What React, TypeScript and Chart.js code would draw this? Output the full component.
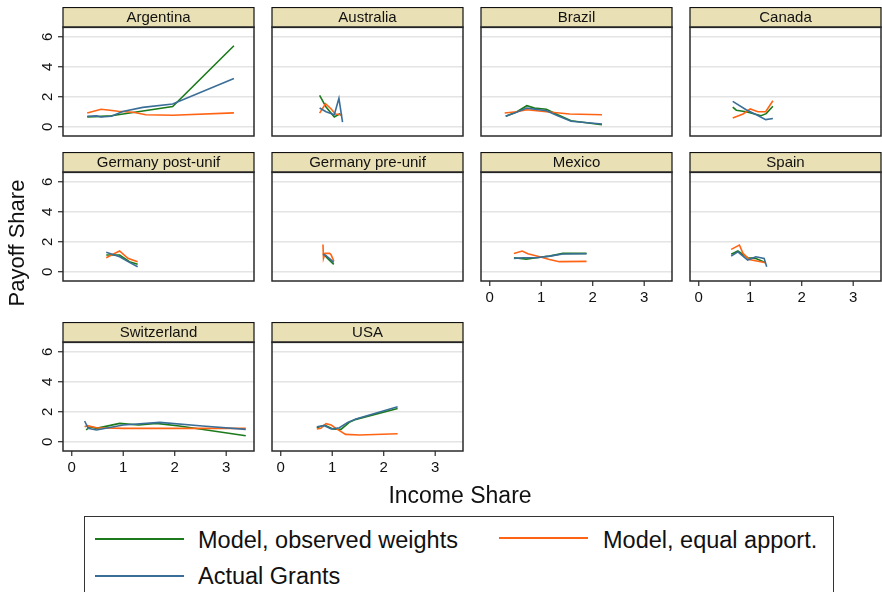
import React, { useEffect, useRef } from "react";
import { Chart, registerables } from "chart.js";
Chart.register(...registerables);

type Pt = [number, number];

// ---------- data ----------
const countries = [
  "Argentina", "Australia", "Brazil", "Canada",
  "Germany post-unif", "Germany pre-unif", "Mexico", "Spain",
  "Switzerland", "USA",
];
const seriesNames = ["Model, observed weights", "Model, equal apport.", "Actual Grants"];
const xTickValues = [0, 1, 2, 3];
const yTickValues = [0, 2, 4, 6];

const argentinaObserved: Pt[] = [[0.30, 0.65], [0.57, 0.69], [0.77, 0.73], [1.96, 1.35], [3.15, 5.40]];
const argentinaGrants: Pt[] = [[0.30, 0.70], [0.48, 0.72], [0.57, 0.65], [0.77, 0.70], [0.99, 1.02], [1.38, 1.29], [1.96, 1.51], [3.15, 3.22]];
const argentinaEqual: Pt[] = [[0.30, 0.91], [0.57, 1.16], [0.74, 1.10], [0.90, 1.03], [1.19, 0.96], [1.44, 0.80], [1.96, 0.76], [3.15, 0.92]];

const australiaObserved: Pt[] = [[0.755, 2.09], [0.88, 1.31], [1.04, 0.65], [1.14, 0.85], [1.19, 0.75]];
const australiaGrants: Pt[] = [[0.755, 1.25], [0.88, 1.00], [1.04, 0.80], [1.13, 1.89], [1.20, 0.31]];
const australiaEqual: Pt[] = [[0.755, 0.91], [0.87, 1.53], [0.98, 1.18], [1.06, 0.85], [1.17, 0.80]];

const brazilObserved: Pt[] = [[0.31, 0.69], [0.52, 0.98], [0.72, 1.40], [0.87, 1.24], [1.10, 1.16], [1.32, 0.80], [1.58, 0.40], [2.18, 0.13]];
const brazilGrants: Pt[] = [[0.31, 0.69], [0.52, 0.96], [0.72, 1.24], [1.10, 1.07], [1.32, 0.73], [1.58, 0.36], [2.18, 0.18]];
const brazilEqual: Pt[] = [[0.29, 0.91], [0.52, 1.00], [0.72, 1.13], [1.10, 1.00], [1.55, 0.85], [2.18, 0.80]];

const canadaObserved: Pt[] = [[0.66, 1.31], [0.73, 1.10], [0.92, 1.00], [1.21, 0.73], [1.31, 0.87], [1.44, 1.36]];
const canadaGrants: Pt[] = [[0.66, 1.69], [0.92, 1.13], [1.12, 0.80], [1.30, 0.47], [1.44, 0.55]];
const canadaEqual: Pt[] = [[0.66, 0.58], [0.86, 0.85], [1.00, 1.18], [1.15, 1.00], [1.30, 1.00], [1.44, 1.73]];

const gerPostObserved: Pt[] = [[0.67, 1.11], [0.93, 1.11], [1.12, 0.67], [1.28, 0.49]];
const gerPostGrants: Pt[] = [[0.67, 1.29], [0.93, 1.00], [1.12, 0.62], [1.28, 0.33]];
const gerPostEqual: Pt[] = [[0.67, 0.93], [0.80, 1.16], [0.93, 1.38], [1.09, 0.89], [1.28, 0.67]];

const gerPreObserved: Pt[] = [[0.82, 1.22], [0.91, 0.89], [1.03, 0.49]];
const gerPreGrants: Pt[] = [[0.82, 1.16], [0.88, 1.07], [0.96, 0.84], [1.03, 0.62]];
const gerPreEqual: Pt[] = [[0.82, 1.82], [0.83, 0.89], [0.86, 1.22], [0.95, 1.22], [0.98, 1.11], [1.03, 0.71]];

const mexicoObserved: Pt[] = [[0.47, 0.93], [0.71, 0.84], [0.90, 0.93], [1.16, 1.04], [1.42, 1.22], [1.88, 1.22]];
const mexicoGrants: Pt[] = [[0.47, 0.89], [0.65, 0.93], [0.90, 0.93], [1.16, 1.04], [1.42, 1.18], [1.88, 1.20]];
const mexicoEqual: Pt[] = [[0.47, 1.22], [0.63, 1.38], [0.74, 1.20], [0.97, 1.00], [1.16, 0.82], [1.35, 0.67], [1.88, 0.69]];

const spainObserved: Pt[] = [[0.63, 1.16], [0.76, 1.38], [0.95, 0.93], [1.10, 0.89], [1.30, 0.60]];
const spainGrants: Pt[] = [[0.63, 1.04], [0.76, 1.33], [0.95, 0.78], [1.11, 1.00], [1.27, 0.89], [1.32, 0.33]];
const spainEqual: Pt[] = [[0.63, 1.49], [0.79, 1.78], [0.86, 1.22], [0.98, 0.82], [1.30, 0.60]];

const swissObserved: Pt[] = [[0.28, 0.78], [0.35, 1.00], [0.48, 0.89], [0.93, 1.22], [1.30, 1.11], [1.64, 1.22], [2.09, 1.05], [3.38, 0.40]];
const swissGrants: Pt[] = [[0.25, 1.38], [0.32, 0.89], [0.48, 0.78], [1.00, 1.11], [1.71, 1.29], [2.54, 1.05], [3.38, 0.82]];
const swissEqual: Pt[] = [[0.25, 1.00], [0.30, 1.07], [0.48, 0.93], [1.00, 0.89], [2.00, 0.89], [3.38, 0.89]];

const usaObserved: Pt[] = [[0.70, 0.93], [0.85, 1.11], [1.01, 0.85], [1.17, 0.82], [1.33, 1.29], [1.46, 1.49], [2.27, 2.22]];
const usaGrants: Pt[] = [[0.70, 1.00], [0.85, 1.07], [0.98, 0.85], [1.14, 0.93], [1.30, 1.29], [1.46, 1.51], [2.27, 2.33]];
const usaEqual: Pt[] = [[0.70, 0.85], [0.78, 0.89], [0.88, 1.20], [0.98, 1.11], [1.07, 0.89], [1.26, 0.49], [1.53, 0.45], [2.27, 0.53]];

const panelSeries: Pt[][][] = [
  [argentinaObserved, argentinaEqual, argentinaGrants],
  [australiaObserved, australiaEqual, australiaGrants],
  [brazilObserved, brazilEqual, brazilGrants],
  [canadaObserved, canadaEqual, canadaGrants],
  [gerPostObserved, gerPostEqual, gerPostGrants],
  [gerPreObserved, gerPreEqual, gerPreGrants],
  [mexicoObserved, mexicoEqual, mexicoGrants],
  [spainObserved, spainEqual, spainGrants],
  [swissObserved, swissEqual, swissGrants],
  [usaObserved, usaEqual, usaGrants],
];

// ---------- style / layout ----------
const COLORS = ["#1b7a1b", "#ff6414", "#3a6e98"];
const FONT = '"Liberation Sans", Arial, Helvetica, sans-serif';
const COL_LEFT = [63, 272, 481, 690];
const ROW_TOP = [7, 152, 322];
const PLOT_W = 191;
const PLOT_H = 109;
const HEAD_H = 20;
const PAD_L = 40;
const PAD_B = 30;
const X_MIN = -0.17, X_MAX = 3.54;
const Y_MIN = -0.62, Y_MAX = 6.65;
const xAxisPanels = [6, 7, 8, 9];

const decoPlugin = {
  id: "panelDeco",
  afterDraw(chart: any, _args: any, opts: any) {
    const { ctx, chartArea: a, scales } = chart;
    const w = a.right - a.left;
    const h = a.bottom - a.top;
    ctx.save();
    // header strip
    ctx.fillStyle = "#eae0b5";
    ctx.fillRect(a.left, a.top - HEAD_H, w, HEAD_H);
    ctx.strokeStyle = "#111";
    ctx.lineWidth = 1.2;
    ctx.strokeRect(a.left, a.top - HEAD_H + 0.5, w, HEAD_H);
    ctx.fillStyle = "#111";
    ctx.font = `15px ${FONT}`;
    ctx.textAlign = "center";
    ctx.textBaseline = "middle";
    ctx.fillText(opts.title, (a.left + a.right) / 2, a.top - HEAD_H / 2 + 1);
    // frame
    ctx.strokeStyle = "#2a2a2a";
    ctx.lineWidth = 1.5;
    ctx.strokeRect(a.left, a.top, w, h);
    // y ticks
    if (opts.showY) {
      const ys = scales.y;
      ctx.lineWidth = 1.2;
      ctx.font = `15px ${FONT}`;
      for (const v of yTickValues) {
        const py = ys.getPixelForValue(v);
        ctx.beginPath();
        ctx.moveTo(a.left - 5, py);
        ctx.lineTo(a.left, py);
        ctx.stroke();
        ctx.save();
        ctx.translate(a.left - 15, py);
        ctx.rotate(-Math.PI / 2);
        ctx.fillText(String(v), 0, 0);
        ctx.restore();
      }
    }
    if (opts.showX) {
      const xs = scales.x;
      ctx.lineWidth = 1.2;
      ctx.font = `15px ${FONT}`;
      for (const v of xTickValues) {
        const px = xs.getPixelForValue(v);
        ctx.beginPath();
        ctx.moveTo(px, a.bottom);
        ctx.lineTo(px, a.bottom + 5);
        ctx.stroke();
        ctx.fillText(String(v), px, a.bottom + 17);
      }
    }
    ctx.restore();
  },
};

function Panel({ index }: { index: number }) {
  const ref = useRef<HTMLCanvasElement>(null);
  const col = index % 4;
  const row = Math.floor(index / 4);
  const W = PAD_L + PLOT_W + 2;
  const H = HEAD_H + PLOT_H + PAD_B;
  useEffect(() => {
    const series = panelSeries[index];
    // draw order: grants on top, then equal, then observed
    const order = [2, 1, 0];
    const chart = new Chart(ref.current as HTMLCanvasElement, {
      type: "line",
      data: {
        datasets: order.map((s) => ({
          label: seriesNames[s],
          data: series[s].map(([x, y]) => ({ x, y })),
          borderColor: COLORS[s],
          backgroundColor: COLORS[s],
          borderWidth: 1.6,
          pointRadius: 0,
          tension: 0,
          fill: false,
        })),
      },
      options: {
        animation: false,
        responsive: false,
        devicePixelRatio: 1,
        events: [],
        layout: { padding: { top: HEAD_H, right: 2, left: 0, bottom: 0 } },
        plugins: {
          legend: { display: false },
          tooltip: { enabled: false },
          panelDeco: { title: countries[index], showY: col === 0, showX: xAxisPanels.includes(index) },
        } as any,
        scales: {
          x: {
            type: "linear",
            min: X_MIN,
            max: X_MAX,
            grid: { display: false },
            border: { display: false },
            ticks: { display: false },
            afterFit: (s: any) => { s.height = PAD_B; },
          },
          y: {
            type: "linear",
            min: Y_MIN,
            max: Y_MAX,
            afterBuildTicks: (s: any) => { s.ticks = yTickValues.map((v) => ({ value: v })); },
            grid: { color: "#e4e4e4", lineWidth: 1.6, drawTicks: false },
            border: { display: false },
            ticks: { display: false },
            afterFit: (s: any) => { s.width = PAD_L; },
          },
        },
      },
      plugins: [decoPlugin],
    });
    return () => chart.destroy();
  }, [index]);
  return (
    <canvas
      ref={ref}
      width={W}
      height={H}
      style={{ position: "absolute", left: COL_LEFT[col] - PAD_L, top: ROW_TOP[row], width: W, height: H }}
    />
  );
}

const textBase: React.CSSProperties = {
  position: "absolute",
  fontFamily: FONT,
  color: "#111",
  whiteSpace: "nowrap",
};

export default function App() {
  return (
    <div style={{ position: "absolute", left: 0, top: 0, width: 882, height: 592, overflow: "hidden", background: "#fff" }}>
      {countries.map((_, i) => (
        <Panel key={i} index={i} />
      ))}
      <div
        style={{
          ...textBase, left: 17 - 100, top: 243 - 15, width: 200, height: 30, lineHeight: "30px",
          textAlign: "center", fontSize: 22, transform: "rotate(-90deg)",
        }}
      >
        Payoff Share
      </div>
      <div
        style={{ ...textBase, left: 460 - 100, top: 495 - 15, width: 200, height: 30, lineHeight: "30px", textAlign: "center", fontSize: 23 }}
      >
        Income Share
      </div>
      <div style={{ position: "absolute", left: 84, top: 516, width: 750, height: 120, border: "1px solid #333", boxSizing: "border-box" }} />
      <div style={{ position: "absolute", left: 95, top: 538, width: 89, height: 2, background: COLORS[0] }} />
      <div style={{ ...textBase, left: 198, top: 540 - 15, height: 30, lineHeight: "30px", fontSize: 23.5 }}>{seriesNames[0]}</div>
      <div style={{ position: "absolute", left: 499, top: 537, width: 89, height: 2, background: COLORS[1] }} />
      <div style={{ ...textBase, left: 603, top: 540 - 15, height: 30, lineHeight: "30px", fontSize: 23.5 }}>{seriesNames[1]}</div>
      <div style={{ position: "absolute", left: 95, top: 575, width: 89, height: 2, background: COLORS[2] }} />
      <div style={{ ...textBase, left: 198, top: 576 - 15, height: 30, lineHeight: "30px", fontSize: 23.5 }}>{seriesNames[2]}</div>
    </div>
  );
}
